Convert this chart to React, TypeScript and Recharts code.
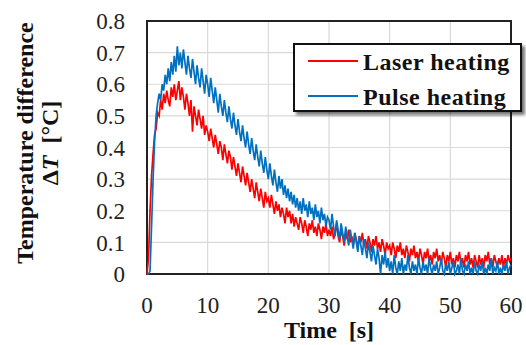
import React from "react";
import { LineChart, Line, XAxis, YAxis, CartesianGrid, ReferenceArea, Legend, Label } from "recharts";

const timeS = [
  0, 0.25, 0.5, 0.75, 1, 1.25, 1.5, 1.75, 2, 2.25, 2.5, 2.75, 3, 3.25, 3.5, 3.75, 4, 4.25, 4.5, 4.75,
  5, 5.25, 5.5, 5.75, 6, 6.25, 6.5, 6.75, 7, 7.25, 7.5, 7.75, 8, 8.25, 8.5, 8.75, 9, 9.25, 9.5, 9.75,
  10, 10.25, 10.5, 10.75, 11, 11.25, 11.5, 11.75, 12, 12.25, 12.5, 12.75, 13, 13.25, 13.5, 13.75, 14, 14.25, 14.5, 14.75,
  15, 15.25, 15.5, 15.75, 16, 16.25, 16.5, 16.75, 17, 17.25, 17.5, 17.75, 18, 18.25, 18.5, 18.75, 19, 19.25, 19.5, 19.75,
  20, 20.25, 20.5, 20.75, 21, 21.25, 21.5, 21.75, 22, 22.25, 22.5, 22.75, 23, 23.25, 23.5, 23.75, 24, 24.25, 24.5, 24.75,
  25, 25.25, 25.5, 25.75, 26, 26.25, 26.5, 26.75, 27, 27.25, 27.5, 27.75, 28, 28.25, 28.5, 28.75, 29, 29.25, 29.5, 29.75,
  30, 30.25, 30.5, 30.75, 31, 31.25, 31.5, 31.75, 32, 32.25, 32.5, 32.75, 33, 33.25, 33.5, 33.75, 34, 34.25, 34.5, 34.75,
  35, 35.25, 35.5, 35.75, 36, 36.25, 36.5, 36.75, 37, 37.25, 37.5, 37.75, 38, 38.25, 38.5, 38.75, 39, 39.25, 39.5, 39.75,
  40, 40.25, 40.5, 40.75, 41, 41.25, 41.5, 41.75, 42, 42.25, 42.5, 42.75, 43, 43.25, 43.5, 43.75, 44, 44.25, 44.5, 44.75,
  45, 45.25, 45.5, 45.75, 46, 46.25, 46.5, 46.75, 47, 47.25, 47.5, 47.75, 48, 48.25, 48.5, 48.75, 49, 49.25, 49.5, 49.75,
  50, 50.25, 50.5, 50.75, 51, 51.25, 51.5, 51.75, 52, 52.25, 52.5, 52.75, 53, 53.25, 53.5, 53.75, 54, 54.25, 54.5, 54.75,
  55, 55.25, 55.5, 55.75, 56, 56.25, 56.5, 56.75, 57, 57.25, 57.5, 57.75, 58, 58.25, 58.5, 58.75, 59, 59.25, 59.5, 59.75,
  60,
];

const laserHeating = [
  0, 0.05, 0.2, 0.31, 0.38, 0.44, 0.46, 0.51, 0.5, 0.55, 0.52, 0.57, 0.54, 0.58, 0.55, 0.53, 0.59, 0.56, 0.6, 0.55,
  0.58, 0.61, 0.55, 0.59, 0.56, 0.52, 0.57, 0.54, 0.5, 0.55, 0.45, 0.53, 0.5, 0.47, 0.52, 0.49, 0.46, 0.5, 0.44, 0.47,
  0.45, 0.42, 0.46, 0.43, 0.4, 0.44, 0.41, 0.38, 0.42, 0.4, 0.36, 0.41, 0.38, 0.35, 0.39, 0.37, 0.33, 0.37, 0.34, 0.31,
  0.35, 0.32, 0.29, 0.34, 0.31, 0.28, 0.32, 0.29, 0.26, 0.3, 0.27, 0.24, 0.29, 0.26, 0.23, 0.27, 0.24, 0.21, 0.26, 0.23,
  0.24, 0.21, 0.25, 0.22, 0.19, 0.23, 0.2, 0.22, 0.18, 0.21, 0.19, 0.16, 0.21, 0.18, 0.2, 0.16, 0.19, 0.15, 0.18, 0.16,
  0.14, 0.18, 0.16, 0.13, 0.17, 0.15, 0.12, 0.16, 0.14, 0.17, 0.13, 0.15, 0.12, 0.16, 0.14, 0.11, 0.15, 0.13, 0.16, 0.12,
  0.14, 0.12, 0.15, 0.11, 0.13, 0.16, 0.12, 0.1, 0.14, 0.12, 0.09, 0.13, 0.11, 0.14, 0.1, 0.12, 0.09, 0.13, 0.11, 0.08,
  0.12, 0.1, 0.13, 0.09, 0.11, 0.08, 0.12, 0.1, 0.07, 0.11, 0.09, 0.12, 0.08, 0.1, 0.07, 0.11, 0.09, 0.06, 0.1, 0.08,
  0.09, 0.06, 0.1, 0.08, 0.05, 0.09, 0.07, 0.1, 0.06, 0.08, 0.05, 0.09, 0.07, 0.04, 0.08, 0.06, 0.09, 0.05, 0.07, 0.04,
  0.08, 0.06, 0.03, 0.07, 0.05, 0.08, 0.04, 0.06, 0.03, 0.07, 0.05, 0.08, 0.04, 0.06, 0.03, 0.07, 0.05, 0.02, 0.06, 0.04,
  0.07, 0.03, 0.05, 0.02, 0.06, 0.04, 0.07, 0.03, 0.05, 0.02, 0.06, 0.04, 0.07, 0.03, 0.05, 0.02, 0.06, 0.04, 0.02, 0.06,
  0.03, 0.05, 0.02, 0.06, 0.04, 0.07, 0.03, 0.05, 0.02, 0.06, 0.04, 0.02, 0.05, 0.03, 0.06, 0.02, 0.05, 0.03, 0.06, 0.04,
  0.05,
];

const pulseHeating = [
  0, 0, 0.01, 0.15, 0.3, 0.42, 0.5, 0.54, 0.57, 0.55, 0.6, 0.58, 0.63, 0.6, 0.65, 0.61, 0.67, 0.63, 0.69, 0.64,
  0.72, 0.66, 0.7, 0.65, 0.71, 0.67, 0.63, 0.69, 0.65, 0.62, 0.68, 0.64, 0.6, 0.66, 0.62, 0.59, 0.65, 0.61, 0.57, 0.63,
  0.6, 0.56, 0.62, 0.58, 0.54, 0.59, 0.55, 0.51, 0.57, 0.53, 0.5, 0.55, 0.51, 0.48, 0.53, 0.49, 0.46, 0.51, 0.47, 0.44,
  0.49, 0.45, 0.42, 0.47, 0.43, 0.4, 0.45, 0.41, 0.38, 0.43, 0.39, 0.36, 0.41, 0.37, 0.34, 0.39, 0.35, 0.32, 0.37, 0.33,
  0.3, 0.35, 0.31, 0.28, 0.33, 0.29, 0.26, 0.31, 0.27, 0.3, 0.25, 0.28, 0.24, 0.27, 0.23, 0.26, 0.22, 0.25, 0.21, 0.24,
  0.2, 0.23, 0.19, 0.24, 0.2, 0.22, 0.18, 0.23, 0.19, 0.21, 0.17, 0.22, 0.18, 0.2, 0.16, 0.21, 0.17, 0.19, 0.15, 0.18,
  0.17, 0.14, 0.19, 0.15, 0.12, 0.17, 0.14, 0.11, 0.16, 0.13, 0.1, 0.15, 0.12, 0.09, 0.14, 0.11, 0.08, 0.13, 0.1, 0.07,
  0.12, 0.09, 0.06, 0.11, 0.08, 0.05, 0.1, 0.07, 0.04, 0.09, 0.06, 0.03, 0.08, 0.05, 0, 0.06, 0.03, 0.07, 0.02, 0.05,
  0.01, 0.04, 0, 0.06, 0.02, 0, 0.04, 0.01, 0.05, 0, 0.03, 0.01, 0.06, 0.02, 0, 0.04, 0.01, 0.03, 0, 0.05,
  0.02, 0, 0.04, 0.01, 0.03, 0, 0.05, 0.02, 0, 0.03, 0.01, 0.04, 0, 0.02, 0.05, 0.01, 0, 0.03, 0.01, 0.04,
  0, 0.02, 0.04, 0, 0.01, 0.03, 0, 0.05, 0.01, 0, 0.03, 0.01, 0.04, 0, 0.02, 0, 0.04, 0.01, 0, 0.03,
  0.01, 0.04, 0, 0.02, 0, 0.03, 0.01, 0.05, 0, 0.02, 0.01, 0.04, 0, 0.02, 0, 0.03, 0.01, 0.04, 0, 0.02,
  0.03,
];

const xTicks = [0, 10, 20, 30, 40, 50, 60];
const yTicks = [0, 0.1, 0.2, 0.3, 0.4, 0.5, 0.6, 0.7, 0.8];
const seriesNames = ["Laser heating", "Pulse heating"];
const seriesColors = ["#FF0000", "#0070C0"];

const data = timeS.map((t, i) => ({ t, laser: laserHeating[i], pulse: pulseHeating[i] }));

const FONT = "Liberation Serif, DejaVu Serif, serif";

const renderLegend = () => (
  <div
    style={{
      width: 229,
      height: 69,
      boxSizing: "border-box",
      border: "2px solid #111",
      background: "#fff",
      boxShadow: "3px 3px 3px rgba(0,0,0,0.55)",
      position: "relative",
    }}
  >
    <svg width={225} height={65} style={{ position: "absolute", left: 0, top: 0 }}>
      {seriesNames.map((name, i) => (
        <g key={name}>
          <line x1={13} x2={63} y1={16 + i * 35} y2={16 + i * 35} stroke={seriesColors[i]} strokeWidth={2} />
          <text x={68} y={25 + i * 35} style={{ fontFamily: FONT, fontWeight: "bold", fontSize: 24, letterSpacing: 0.5 }} fill="#111">
            {name}
          </text>
        </g>
      ))}
    </svg>
  </div>
);

const titleStyle = { fontFamily: FONT, fontWeight: "bold" as const, fontSize: 24, whiteSpace: "pre" as const };

const YTitle = () => (
  <g>
    <text x={33} y={143} transform="rotate(-90 33 143)" textAnchor="middle" style={titleStyle} fill="#111">
      Temperature difference
    </text>
    <text x={58} y={143} transform="rotate(-90 58 143)" textAnchor="middle" style={titleStyle} fill="#111">
      {"Δ"}
      <tspan fontStyle="italic">T</tspan>
      {"  [°C]"}
    </text>
  </g>
);

const XTitle = () => (
  <text x={329} y={338} textAnchor="middle" style={titleStyle} fill="#111">
    {"Time  [s]"}
  </text>
);

const tickStyle = { fontFamily: FONT, fontSize: 23, fill: "#222" };

export default function App() {
  return (
    <div style={{ position: "absolute", left: 0, top: 0, width: 526, height: 345, background: "#fff", fontFamily: FONT }}>
      <LineChart width={526} height={345} data={data} margin={{ top: 21, right: 15, left: 0, bottom: 0 }}>
        <CartesianGrid stroke="#D9D9D9" strokeWidth={1.2} />
        <XAxis
          dataKey="t"
          type="number"
          domain={[0, 60]}
          ticks={xTicks}
          height={71}
          axisLine={false}
          tickLine={false}
          tickSize={0}
          tickMargin={23}
          tick={{ ...tickStyle, style: tickStyle }}
          interval={0}
        >
          <Label content={() => <XTitle />} />
        </XAxis>
        <YAxis
          type="number"
          domain={[0, 0.8]}
          ticks={yTicks}
          width={147}
          axisLine={false}
          tickLine={false}
          tickSize={0}
          tickMargin={22}
          tick={{ ...tickStyle, style: tickStyle }}
          interval={0}
        >
          <Label content={() => <YTitle />} />
        </YAxis>
        <Line
          type="linear"
          dataKey="laser"
          name={seriesNames[0]}
          stroke={seriesColors[0]}
          strokeWidth={1.7}
          dot={false}
          isAnimationActive={false}
        />
        <Line
          type="linear"
          dataKey="pulse"
          name={seriesNames[1]}
          stroke={seriesColors[1]}
          strokeWidth={1.7}
          dot={false}
          isAnimationActive={false}
        />
        <ReferenceArea x1={0} x2={60} y1={0} y2={0.8} fill="none" stroke="#222" strokeWidth={2} ifOverflow="visible" />
        <Legend
          content={renderLegend}
          layout="horizontal"
          verticalAlign="middle"
          align="center"
          wrapperStyle={{ left: 293, top: 43, width: 229, height: 69 }}
        />
      </LineChart>
    </div>
  );
}
